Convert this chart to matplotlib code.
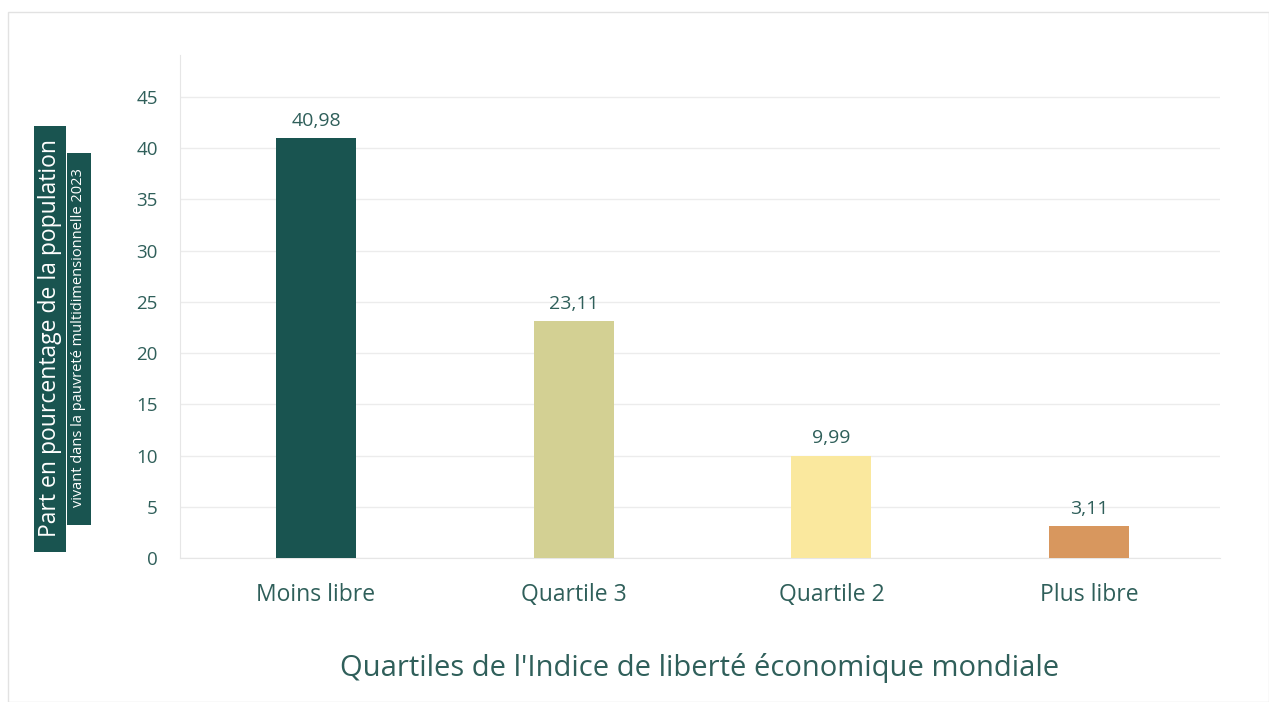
import matplotlib.pyplot as plt
from matplotlib.patches import Rectangle

# data
categories = ['Moins libre', 'Quartile 3', 'Quartile 2', 'Plus libre']
values = [40.98, 23.11, 9.99, 3.11]
value_labels = ['40,98', '23,11', '9,99', '3,11']
yticks = [0, 5, 10, 15, 20, 25, 30, 35, 40, 45]

colors = ['#195450', '#d3d093', '#fae89e', '#d8975e']
text_col = '#2f5f5a'
box_col = '#195450'

plt.rcParams['font.family'] = ['Open Sans', 'DejaVu Sans']

fig = plt.figure(figsize=(12.69, 7.02), dpi=100)
W, H = 1269, 702

# thin frame around the card
fig.patches.append(Rectangle((8 / W, 0), 1 - 8 / W, 1 - 12 / H, transform=fig.transFigure,
                             fill=False, edgecolor='#e2e2e2', linewidth=1))

ax = fig.add_axes([180 / W, 1 - 558 / H, 1040 / W, 503 / H])
x = range(len(categories))
ax.bar(x, values, width=0.31, color=colors, zorder=3)
for xi, v, lab in zip(x, values, value_labels):
    ax.text(xi, v + 0.8, lab, ha='center', va='bottom', fontsize=14, color=text_col)

ax.set_xlim(-0.528, 3.508)
ax.set_ylim(0, 49.1)
ax.set_yticks(yticks)
ax.set_yticklabels([str(t) for t in yticks], fontsize=13.5, color=text_col)
ax.set_xticks(list(x))
ax.set_xticklabels(categories, fontsize=16.5, color=text_col)
ax.tick_params(axis='y', length=0, pad=16)
ax.tick_params(axis='x', length=0, pad=18)
ax.grid(axis='y', color='#ececec', linewidth=1, zorder=0)
for s in ['top', 'right']:
    ax.spines[s].set_visible(False)
ax.spines['left'].set_color('#e6e6e6')
ax.spines['bottom'].set_color('#e6e6e6')

ax.set_xlabel("Quartiles de l'Indice de liberté économique mondiale", fontsize=21,
              color=text_col, labelpad=33)

# y axis title in two dark boxes
fig.patches.append(Rectangle((34 / W, 1 - 552 / H), 32 / W, 426 / H, transform=fig.transFigure,
                             facecolor=box_col, edgecolor='none'))
fig.patches.append(Rectangle((67 / W, 1 - 525 / H), 24 / W, 372 / H, transform=fig.transFigure,
                             facecolor=box_col, edgecolor='none'))
fig.text(50 / W, 1 - 338 / H, 'Part en pourcentage de la population', rotation=90,
         ha='center', va='center', fontsize=16.5, color='white')
fig.text(79 / W, 1 - 338 / H, 'vivant dans la pauvreté multidimensionnelle 2023', rotation=90,
         ha='center', va='center', fontsize=10.5, color='white')

plt.savefig('out.png', dpi=100)
